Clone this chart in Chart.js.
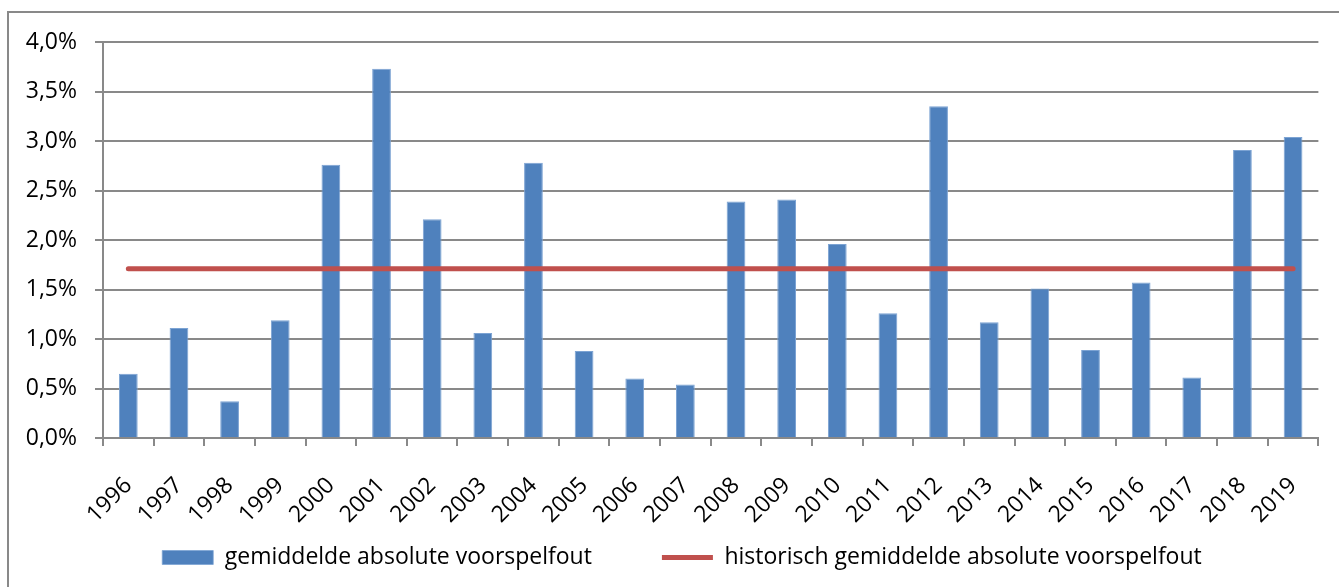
<!DOCTYPE html>
<html>
<head>
   <title>Gemiddelde absolute voorspelfout</title>
   <script src="https://cdn.jsdelivr.net/npm/chart.js"></script>
   <style>
       body { margin: 0; background: #fff; }
       #wrap { position: relative; width: 1339px; height: 587px; }
   </style>
</head>
<body>
   <div id="wrap"><canvas id="foutChart" width="1339" height="587"></canvas></div>

   <script>
       // jaren op de x-as
       const jaren = ["1996", "1997", "1998", "1999", "2000", "2001", "2002", "2003", "2004", "2005", "2006", "2007",
                      "2008", "2009", "2010", "2011", "2012", "2013", "2014", "2015", "2016", "2017", "2018", "2019"];
       // gemiddelde absolute voorspelfout per jaar (%)
       const voorspelfout = [0.65, 1.11, 0.37, 1.19, 2.76, 3.73, 2.21, 1.06, 2.78, 0.88, 0.60, 0.54,
                             2.39, 2.41, 1.96, 1.26, 3.35, 1.17, 1.51, 0.89, 1.57, 0.61, 2.91, 3.04];
       // historisch gemiddelde (%)
       const historisch = [1.71, 1.71, 1.71, 1.71, 1.71, 1.71, 1.71, 1.71, 1.71, 1.71, 1.71, 1.71,
                           1.71, 1.71, 1.71, 1.71, 1.71, 1.71, 1.71, 1.71, 1.71, 1.71, 1.71, 1.71];
       const yTicks = [0, 0.5, 1, 1.5, 2, 2.5, 3, 3.5, 4];

       const grijs = "#898989";
       const fontNaam = "'Open Sans', sans-serif";

       // kader links en boven, zoals in het origineel
       const kader = {
           id: "kader",
           beforeDraw(chart) {
               const c = chart.ctx;
               c.save();
               c.strokeStyle = grijs;
               c.lineWidth = 2;
               c.beginPath();
               c.moveTo(8, chart.height);
               c.lineTo(8, 12);
               c.lineTo(chart.width, 12);
               c.stroke();
               c.restore();
           }
       };

       // legenda hoger en iets naar rechts schuiven
       const legendaPlek = {
           id: "legendaPlek",
           afterLayout(chart) {
               const lg = chart.legend;
               lg.top -= 62;
               lg.bottom -= 62;
               lg.left += 45;
           }
       };

       const ctx = document.getElementById("foutChart").getContext("2d");
       const chart = new Chart(ctx, {
           data: {
               labels: jaren,
               datasets: [{
                   type: "bar",
                   label: "gemiddelde absolute voorspelfout",
                   data: voorspelfout,
                   backgroundColor: "#4F81BD",
                   borderColor: "#7CA3D3",
                   borderWidth: { top: 1, left: 1, right: 1, bottom: 0 },
                   barPercentage: 0.37,
                   categoryPercentage: 1,
                   pointStyle: "rect",
                   order: 2
               }, {
                   type: "line",
                   label: "historisch gemiddelde absolute voorspelfout",
                   data: historisch,
                   borderColor: "#C0504D",
                   backgroundColor: "#C0504D",
                   borderWidth: 5,
                   borderCapStyle: "round",
                   pointRadius: 0,
                   pointStyle: "line",
                   fill: false,
                   order: 1
               }]
           },
           options: {
               responsive: false,
               animation: false,
               layout: { padding: { left: 0, right: 20, top: 42, bottom: -54 } },
               plugins: {
                   tooltip: { enabled: false },
                   legend: {
                       position: "bottom",
                       maxHeight: 110,
                       labels: {
                           usePointStyle: true,
                           pointStyleWidth: 51,
                           boxHeight: 14,
                           padding: 70,
                           color: "#000",
                           font: { family: fontNaam, size: 23 },
                           sort: (a, b) => a.datasetIndex - b.datasetIndex
                       }
                   }
               },
               scales: {
                   x: {
                       offset: true,
                       grid: { display: true, drawOnChartArea: false, drawTicks: true, tickLength: 8, color: grijs, lineWidth: 2, offset: true },
                       border: { color: grijs, width: 2 },
                       ticks: {
                           minRotation: 45, maxRotation: 45, padding: 26,
                           color: "#000",
                           font: { family: fontNaam, size: 23 }
                       },
                       afterFit(scale) { scale.height = 100; }
                   },
                   y: {
                       min: 0, max: 4,
                       afterBuildTicks(scale) { scale.ticks = yTicks.map(v => ({ value: v })); },
                       grid: { color: grijs, lineWidth: 2, tickLength: 8 },
                       border: { color: grijs, width: 2 },
                       ticks: {
                           padding: 18,
                           color: "#000",
                           font: { family: fontNaam, size: 23 },
                           callback: v => v.toFixed(1).replace(".", ",") + "%"
                       },
                       afterFit(scale) { scale.width = 103; }
                   }
               }
           },
           plugins: [kader, legendaPlek]
       });
   </script>
</body>
</html>
